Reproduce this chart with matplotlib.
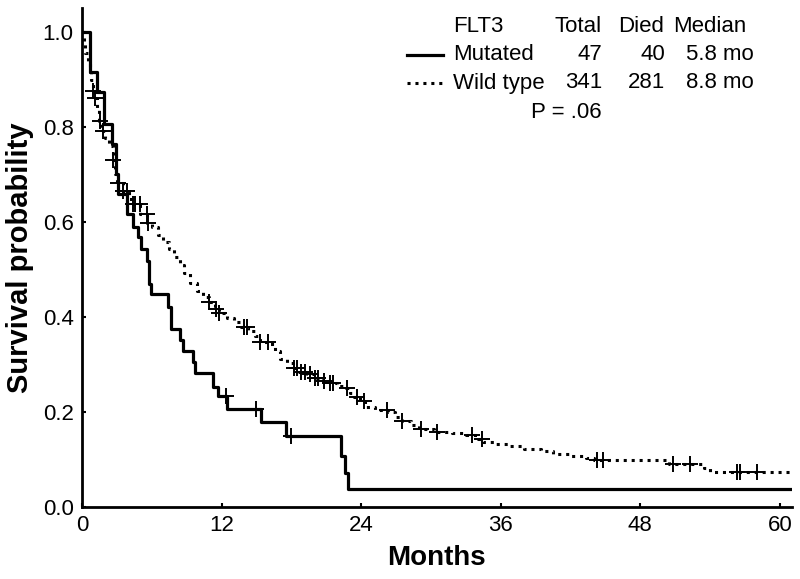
import matplotlib
matplotlib.use('Agg')
import matplotlib.pyplot as plt
import numpy as np
from matplotlib.lines import Line2D

plt.rcParams['font.family'] = ['Liberation Sans', 'DejaVu Sans']

# FLT3 mutated: Kaplan-Meier steps (months, survival)
mut_t = [0, 0.69, 1.26, 1.89, 2.61, 2.90, 3.12, 3.84, 4.41, 4.84, 5.07, 5.56, 5.76, 5.89,
         7.42, 7.63, 8.43, 8.71, 9.52, 9.72, 11.29, 11.72, 12.50, 15.40, 17.55, 22.25,
         22.60, 22.90]
mut_s = [1.0, 0.915, 0.873, 0.806, 0.764, 0.700, 0.658, 0.616, 0.588, 0.567, 0.542, 0.518,
         0.469, 0.448, 0.420, 0.375, 0.352, 0.329, 0.305, 0.282, 0.252, 0.233, 0.207, 0.178,
         0.150, 0.108, 0.072, 0.037]
mut_cens = [12.4, 15.0, 18.0]

# FLT3 wild type
wt_t = [0, 0.15, 0.25, 0.5, 0.65, 0.8, 0.95, 1.1, 1.25, 1.5, 1.65, 1.95, 2.3, 2.65, 2.85, 3.0,
        3.5, 4.0, 4.4, 5.0, 5.6, 6.0, 6.5, 7.0, 7.5, 7.9, 8.4, 8.8, 9.3, 9.9, 10.4, 10.9,
        11.4, 11.8, 12.5, 13.1, 13.7, 14.3, 14.9, 15.3, 16.2, 16.6, 17.0, 17.6, 18.1, 18.6,
        19.3, 20.0, 20.7, 21.3, 21.9, 22.7, 23.0, 23.4, 23.9, 24.3, 25.2, 26.3, 26.9, 27.5,
        28.3, 29.0, 30.3, 31.8, 33.0, 34.0, 34.5, 35.6, 36.8, 38.0, 39.5, 40.5, 42.0, 43.3,
        44.0, 50.5, 53.5, 54.0]
wt_s = [1.0, 0.975, 0.955, 0.934, 0.916, 0.899, 0.875, 0.86, 0.836, 0.811, 0.79, 0.776,
        0.759, 0.731, 0.70, 0.682, 0.665, 0.648, 0.637, 0.616, 0.598, 0.588, 0.572, 0.558,
        0.542, 0.525, 0.51, 0.493, 0.472, 0.455, 0.442, 0.432, 0.416, 0.408, 0.398, 0.39,
        0.378, 0.37, 0.36, 0.348, 0.342, 0.328, 0.312, 0.302, 0.292, 0.285, 0.279, 0.272,
        0.266, 0.26, 0.255, 0.25, 0.24, 0.232, 0.222, 0.21, 0.205, 0.199, 0.19, 0.18, 0.172,
        0.163, 0.158, 0.155, 0.151, 0.143, 0.137, 0.133, 0.128, 0.122, 0.118, 0.112, 0.107,
        0.103, 0.099, 0.09, 0.082, 0.074]
wt_cens = [0.97, 1.12, 1.55, 1.83, 2.69, 3.12, 3.55, 3.84, 4.41, 4.56, 4.99, 5.56, 5.70,
           10.9, 11.5, 11.8, 13.9, 14.2, 15.3, 16.0, 18.2, 18.5, 18.8, 19.2, 19.6, 20.0,
           20.3, 20.8, 21.3, 21.6, 22.8, 23.6, 24.2, 26.2, 27.5, 29.1, 30.5, 33.5, 34.4,
           44.3, 44.8, 50.8, 52.3, 56.3, 56.6, 58.0]

t_end = 61

# legend table
groups = ['Mutated', 'Wild type']
totals = [47, 341]
died = [40, 281]
medians = ['5.8 mo', '8.8 mo']
p_text = 'P = .06'

x_ticks = [0, 12, 24, 36, 48, 60]
y_ticks = [0.0, 0.2, 0.4, 0.6, 0.8, 1.0]


def surv_at(times, surv, t):
    i = np.searchsorted(times, t, side='right') - 1
    return np.array(surv)[i]


fig = plt.figure(figsize=(8, 5.79), dpi=100)
ax = fig.add_axes([0.1025, 0.1244, 0.887, 0.862])

styles = [dict(linestyle='-', linewidth=2.3), dict(linestyle=(0, (1, 1.6)), linewidth=2.2)]
curves = [(mut_t, mut_s, mut_cens), (wt_t, wt_s, wt_cens)]
for (t, s, c), st in zip(curves, styles):
    ax.step(list(t) + [t_end], list(s) + [s[-1]], where='post', color='black', **st)
    ax.plot(c, surv_at(t, s, c), '+', color='black', markersize=11, markeredgewidth=1.4)

ax.set_xlim(0, t_end)
ax.set_ylim(0, 1.05)
ax.set_xticks(x_ticks)
ax.set_yticks(y_ticks)
ax.set_yticklabels([f'{v:.1f}' for v in y_ticks])
ax.tick_params(direction='in', length=3, width=1.5, labelsize=16, pad=6)
for sp in ['top', 'right']:
    ax.spines[sp].set_visible(False)
for sp in ['left', 'bottom']:
    ax.spines[sp].set_linewidth(2)

ax.set_xlabel('Months', fontsize=20, fontweight='bold', labelpad=6)
ax.set_ylabel('Survival probability', fontsize=21, fontweight='bold', labelpad=6)


# legend drawn as a little table (pixel positions of the original)
def fx(px):
    return px / 800


def fy(py):
    return 1 - py / 579


fs = 16
rows_y = [55, 83]
fig.text(fx(453), fy(27), 'FLT3', fontsize=fs, va='center', ha='left')
fig.text(fx(602), fy(27), 'Total', fontsize=fs, va='center', ha='right')
fig.text(fx(618), fy(27), 'Died', fontsize=fs, va='center', ha='left')
fig.text(fx(673), fy(27), 'Median', fontsize=fs, va='center', ha='left')
for i, g in enumerate(groups):
    y = fy(rows_y[i])
    fig.add_artist(Line2D([fx(407), fx(443)], [y, y], color='black', transform=fig.transFigure,
                          **styles[i]))
    fig.text(fx(453), y, g, fontsize=fs, va='center', ha='left')
    fig.text(fx(602), y, str(totals[i]), fontsize=fs, va='center', ha='right')
    fig.text(fx(665), y, str(died[i]), fontsize=fs, va='center', ha='right')
    fig.text(fx(754), y, medians[i], fontsize=fs, va='center', ha='right')
fig.text(fx(602), fy(112), p_text, fontsize=fs, va='center', ha='right')

fig.savefig('out.png', dpi=100)
